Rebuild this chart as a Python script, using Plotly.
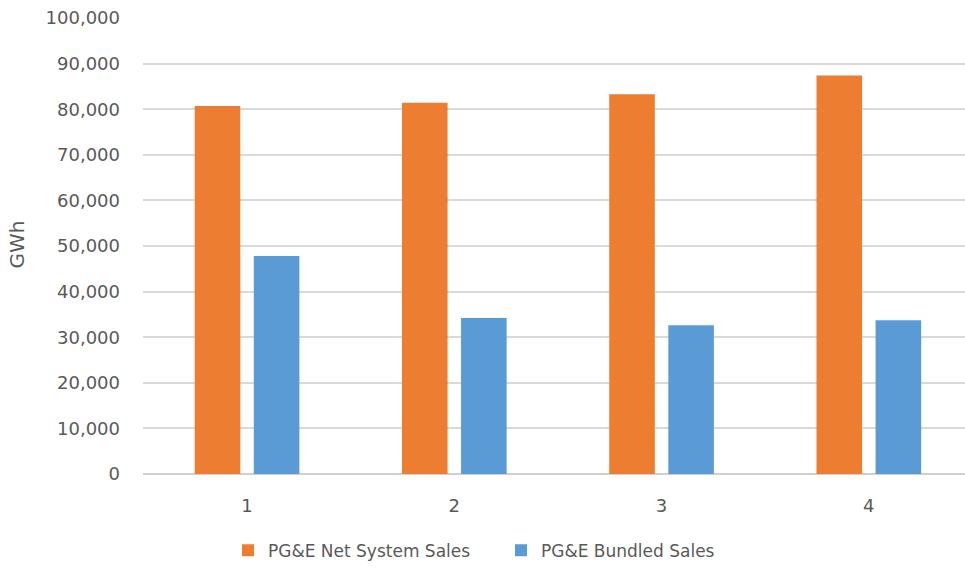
import plotly.graph_objects as go

categories = [1, 2, 3, 4]
net_system_sales = [80700, 81400, 83300, 87400]
bundled_sales = [47800, 34200, 32600, 33700]
series_names = ["PG&E Net System Sales", "PG&E Bundled Sales"]
y_ticks = list(range(0, 100001, 10000))
y_tick_labels = [f"{v:,}" for v in y_ticks]

ORANGE = "#ED7D31"
BLUE = "#5B9BD5"
TEXT = "#595959"
GRID = "#D9D9D9"
FONT = "DejaVu Sans"

fig = go.Figure()
fig.add_trace(go.Bar(x=categories, y=net_system_sales, name=series_names[0],
                     marker=dict(color=ORANGE, line=dict(width=0))))
fig.add_trace(go.Bar(x=categories, y=bundled_sales, name=series_names[1],
                     marker=dict(color=BLUE, line=dict(width=0))))

W, H = 965, 569
L, R, T, B = 143, 0, 18, 93
plot_w = W - L - R
plot_h = H - T - B

fig.update_layout(
    width=W, height=H,
    margin=dict(l=L, r=R, t=T, b=B, pad=0),
    paper_bgcolor="white", plot_bgcolor="white",
    barmode="group", bargap=0.43, bargroupgap=0.228,
    font=dict(family=FONT, size=17, color=TEXT),
    showlegend=True,
    legend=dict(orientation="h", x=(228 - L) / plot_w, xanchor="left",
                y=-(553 - (H - B)) / plot_h, yanchor="middle",
                font=dict(family=FONT, size=17, color=TEXT),
                traceorder="normal", entrywidth=228, entrywidthmode="pixels",
                itemwidth=30),
    xaxis=dict(range=[0.498, 4.464], tickmode="array", tickvals=categories,
               ticktext=[str(c) for c in categories], showgrid=False,
               zeroline=False, showline=False, ticks="",
               tickfont=dict(family=FONT, size=18, color=TEXT),
               ticklabelstandoff=19, fixedrange=True),
    yaxis=dict(range=[0, 100000], tickmode="array", tickvals=y_ticks,
               ticktext=y_tick_labels, showgrid=True, gridcolor=GRID,
               gridwidth=1.5, zeroline=True, zerolinecolor="#CFCFCF",
               zerolinewidth=1.5, showline=False, ticks="",
               tickfont=dict(family=FONT, size=18, color=TEXT),
               ticklabelstandoff=22, fixedrange=True),
    annotations=[dict(text="GWh", textangle=-90, xref="paper", yref="paper",
                      x=(17.5 - L) / plot_w, y=1 - (246 - T) / plot_h,
                      xanchor="center", yanchor="middle", showarrow=False,
                      font=dict(family=FONT, size=20, color=TEXT))],
)

fig.write_html("out.html")
